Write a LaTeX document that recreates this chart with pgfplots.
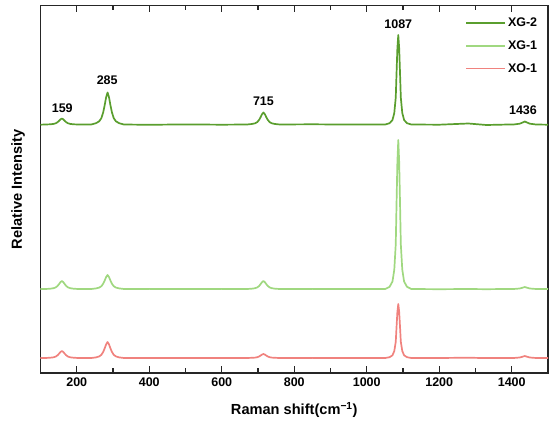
\documentclass[border=0pt]{standalone}
\usepackage{fontspec}
\setmainfont{Liberation Sans}
\usepackage{pgfplots}
\pgfplotsset{compat=1.18}
\definecolor{cXGtwo}{RGB}{90,158,46}
\definecolor{cXGone}{RGB}{160,216,128}
\definecolor{cXOone}{RGB}{240,130,126}
\begin{document}
\begin{tikzpicture}
\begin{axis}[
  at={(0,0)}, anchor=south west,
  scale only axis, width=507.5pt, height=367.5pt,
  xmin=100, xmax=1500, ymin=0, ymax=367.5,
  axis line style={line width=1.2pt, black!85},
  xtick={200,400,...,1400},
  minor xtick={100,300,...,1500},
  tick align=inside,
  major tick length=7pt, minor tick length=5pt,
  every tick/.style={line width=1.1pt, black!85},
  ytick=\empty,
  /pgf/number format/assume math mode=true,
  /pgf/number format/1000 sep={},
  xticklabel={\bfseries\pgfmathprintnumber[assume math mode=true]{\tick}},
  xticklabel style={font=\bfseries\fontsize{12.5}{14}\selectfont, yshift=-1pt},
  xlabel={Raman shift(cm\textsuperscript{−1})},
  ylabel={Relative Intensity},
  xlabel style={font=\bfseries\fontsize{14.6}{17}\selectfont, at={(axis description cs:0.5,0)}, anchor=center, yshift=-37pt},
  ylabel style={font=\bfseries\fontsize{14.6}{17}\selectfont, at={(axis description cs:0,0.5)}, anchor=center, yshift=22.5pt},
  legend style={draw=none, fill=none, at={(axis description cs:0.985,0.975)}, anchor=north east,
    font=\bfseries\fontsize{12.5}{14}\selectfont, row sep=8.5pt, inner sep=1pt},
  legend cell align=left,
  legend image code/.code={\draw[#1, line width=1.7pt] (0pt,0pt) -- (39pt,0pt);},
  every axis plot/.append style={line width=1.7pt, line join=round},
]
% XG-2
\addplot[color=cXGtwo, mark=none] coordinates {
(100,248.3)
(114,248.5)(127,248.7)(136,249.1)(142,249.7)(147,250.8)(151,252.1)(155,253.6)(159,254.5)(163,253.6)(167,252.1)(171,250.8)(176,249.7)(182,249.1)(191,248.7)(204,248.5)
(240,248.5)(253,249.8)(262,251.7)(268,254.9)(273,260.7)(277,267.7)(281,275.7)(285,280.5)(289,275.7)(293,267.7)(297,260.7)(302,254.9)(308,251.7)(317,249.8)(330,248.5)
(400,248.2)(500,248.6)(600,248.3)
(670,248.5)(683,249.0)(692,249.7)(698,250.9)(703,253.1)(707,255.7)(711,258.7)(715,260.5)(719,258.7)(723,255.7)(727,253.1)(732,250.9)(738,249.7)(747,249.0)(760,248.5)
(850,248.7)(950,248.4)(1040,248.5)
(1051,248.5)(1063,249.8)(1071,253.0)(1076,260.1)(1080,275.4)(1082,297.7)(1084.5,324.6)(1087,338.0)(1089.5,324.6)(1092,297.7)(1094,275.4)(1098,260.1)(1103,253.0)(1111,249.8)(1123,248.5)
(1200,248.3)(1280,249.5)(1330,248.0)(1380,248.4)
(1405,248.5)(1422,249.3)(1430,250.5)(1436,251.5)(1442,250.5)(1450,249.3)(1467,248.5)(1500,248.3)
};
\addlegendentry{XG-2}
% XG-1
\addplot[color=cXGone, mark=none] coordinates {
(100,84.0)
(114,84.0)(127,84.3)(136,84.8)(142,85.6)(147,87.0)(151,88.8)(155,90.8)(159,92.0)(163,90.8)(167,88.8)(171,87.0)(176,85.6)(182,84.8)(191,84.3)(204,84.0)
(240,84.0)(253,84.6)(262,85.4)(268,86.8)(273,89.3)(277,92.4)(281,95.9)(285,98.0)(289,95.9)(293,92.4)(297,89.3)(302,86.8)(308,85.4)(317,84.6)(330,84.0)
(400,84.1)(500,83.9)(600,84.1)
(670,84.0)(683,84.3)(692,84.8)(698,85.6)(703,87.0)(707,88.8)(711,90.8)(715,92.0)(719,90.8)(723,88.8)(727,87.0)(732,85.6)(738,84.8)(747,84.3)(760,84.0)
(850,84.1)(950,83.9)(1040,84.0)
(1051,84.0)(1063,86.2)(1071,91.5)(1076,103.4)(1080,128.7)(1082,166.0)(1084.5,210.7)(1087,233.0)(1089.5,210.7)(1092,166.0)(1094,128.7)(1098,103.4)(1103,91.5)(1111,86.2)(1123,84.0)
(1200,83.8)(1280,84.0)(1330,83.8)(1380,84.0)
(1405,84.0)(1422,84.5)(1430,85.3)(1436,86.0)(1442,85.3)(1450,84.5)(1467,84.0)(1500,83.9)
};
\addlegendentry{XG-1}
% XO-1
\addplot[color=cXOone, mark=none] coordinates {
(100,15.0)
(114,15.0)(127,15.3)(136,15.7)(142,16.4)(147,17.7)(151,19.2)(155,21.0)(159,22.0)(163,21.0)(167,19.2)(171,17.7)(176,16.4)(182,15.7)(191,15.3)(204,15.0)
(240,15.0)(253,15.6)(262,16.6)(268,18.2)(273,21.1)(277,24.6)(281,28.6)(285,31.0)(289,28.6)(293,24.6)(297,21.1)(302,18.2)(308,16.6)(317,15.6)(330,15.0)
(400,15.1)(500,14.9)(600,15.1)
(670,15.0)(683,15.2)(692,15.4)(698,15.8)(703,16.5)(707,17.4)(711,18.4)(715,19.0)(719,18.4)(723,17.4)(727,16.5)(732,15.8)(738,15.4)(747,15.2)(760,15.0)
(850,15.1)(950,14.9)(1040,15.0)
(1051,15.0)(1063,15.8)(1071,17.7)(1076,22.0)(1080,31.2)(1082,44.7)(1084.5,60.9)(1087,69.0)(1089.5,60.9)(1092,44.7)(1094,31.2)(1098,22.0)(1103,17.7)(1111,15.8)(1123,15.0)
(1200,15.0)(1280,15.3)(1330,14.9)(1380,15.1)
(1405,15.0)(1422,15.5)(1430,16.3)(1436,17.0)(1442,16.3)(1450,15.5)(1467,15.0)(1500,15.0)
};
\addlegendentry{XO-1}
\begin{scope}[every node/.style={font=\bfseries\fontsize{12.5}{14}\selectfont, anchor=center}]
\node at (axis cs:160,265) {159};
\node at (axis cs:284,293) {285};
\node at (axis cs:715,272) {715};
\node at (axis cs:1087,349) {1087};
\node at (axis cs:1431,263) {1436};
\end{scope}
\end{axis}
\pgfresetboundingbox
\path[use as bounding box] (-40.5pt,-53pt) rectangle (509.5pt,373pt);
\end{tikzpicture}
\end{document}
